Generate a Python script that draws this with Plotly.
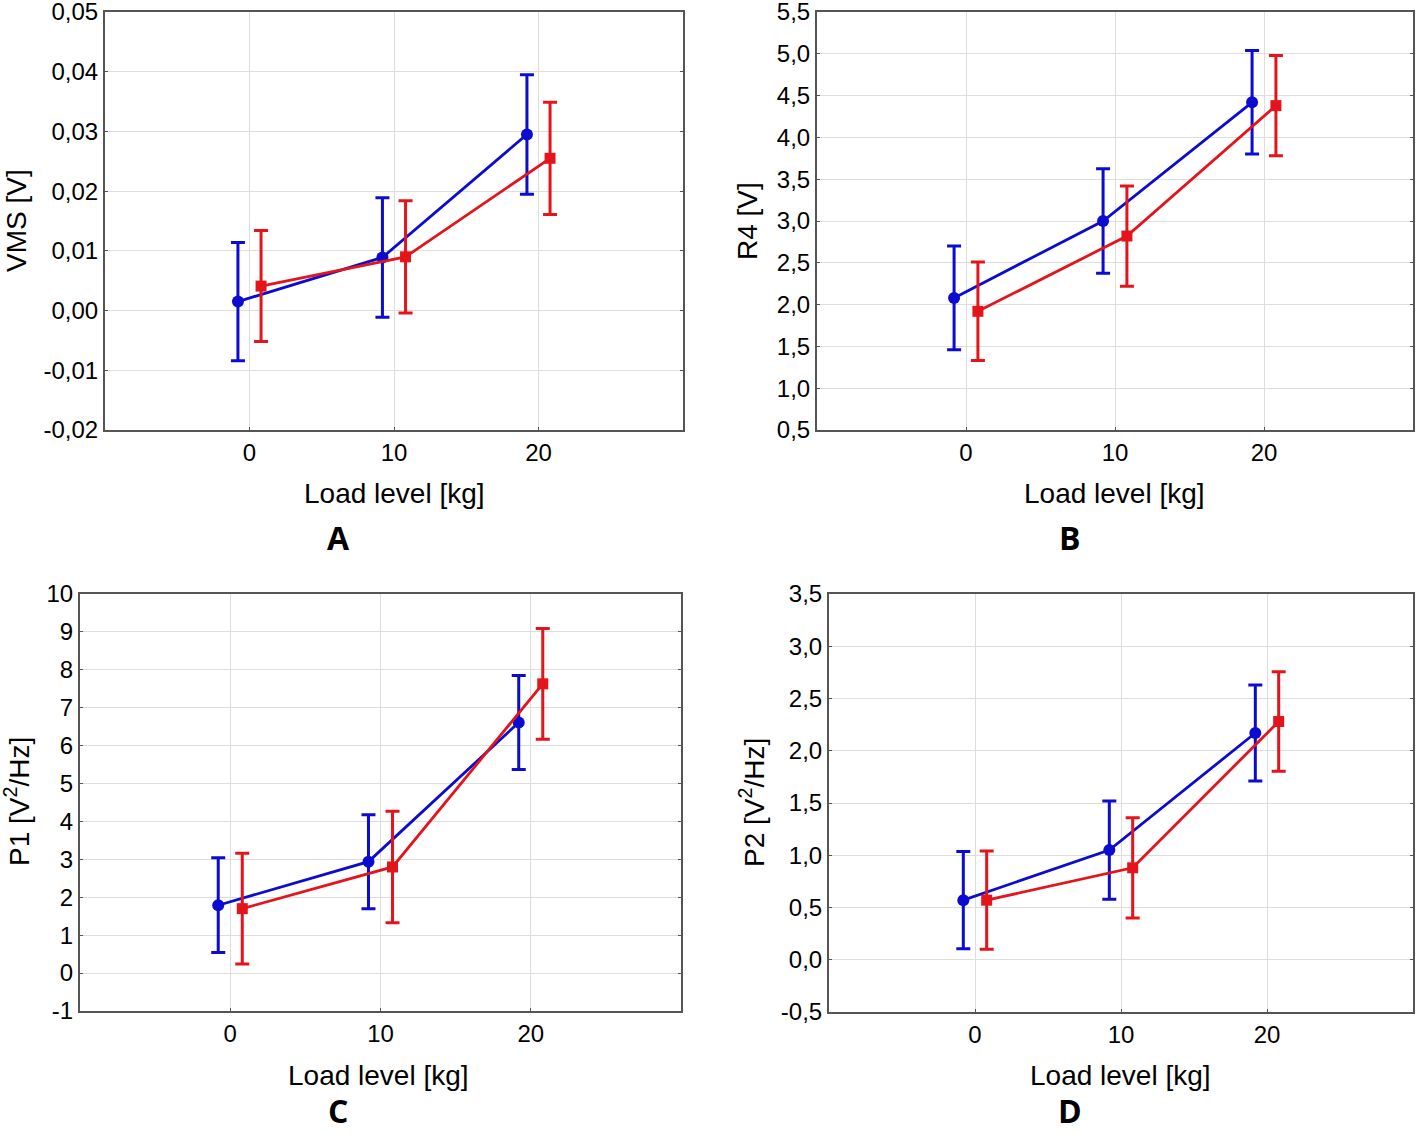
import plotly.graph_objects as go

# ---------------- data ----------------
load_levels = [0, 10, 20]
x_tick_labels = ["0", "10", "20"]

vms_blue = [0.0015, 0.0089, 0.0295]
vms_blue_err = [0.0099, 0.0100, 0.0100]
vms_red = [0.0041, 0.0090, 0.0255]
vms_red_err = [0.0093, 0.0094, 0.0094]

r4_blue = [2.08, 3.00, 4.42]
r4_blue_err = [0.62, 0.625, 0.62]
r4_red = [1.92, 2.82, 4.38]
r4_red_err = [0.59, 0.60, 0.60]

p1_blue = [1.79, 2.94, 6.61]
p1_blue_err = [1.25, 1.24, 1.24]
p1_red = [1.70, 2.80, 7.63]
p1_red_err = [1.46, 1.47, 1.46]

p2_blue = [0.57, 1.05, 2.17]
p2_blue_err = [0.465, 0.47, 0.46]
p2_red = [0.57, 0.88, 2.28]
p2_red_err = [0.47, 0.48, 0.475]

vms_ticks = [-0.02, -0.01, 0.0, 0.01, 0.02, 0.03, 0.04, 0.05]
vms_tick_labels = ["-0,02", "-0,01", "0,00", "0,01", "0,02", "0,03", "0,04", "0,05"]
r4_ticks = [0.5, 1.0, 1.5, 2.0, 2.5, 3.0, 3.5, 4.0, 4.5, 5.0, 5.5]
r4_tick_labels = ["0,5", "1,0", "1,5", "2,0", "2,5", "3,0", "3,5", "4,0", "4,5", "5,0", "5,5"]
p1_ticks = [-1, 0, 1, 2, 3, 4, 5, 6, 7, 8, 9, 10]
p1_tick_labels = ["-1", "0", "1", "2", "3", "4", "5", "6", "7", "8", "9", "10"]
p2_ticks = [-0.5, 0.0, 0.5, 1.0, 1.5, 2.0, 2.5, 3.0, 3.5]
p2_tick_labels = ["-0,5", "0,0", "0,5", "1,0", "1,5", "2,0", "2,5", "3,0", "3,5"]

y_titles = ["VMS [V]", "R4 [V]", "P1 [V<sup>2</sup>/Hz]", "P2 [V<sup>2</sup>/Hz]"]
x_title = "Load level [kg]"
panel_letters = ["A", "B", "C", "D"]

# ---------------- style ----------------
W, H = 1418, 1134
BLUE = "#0c0cd0"
RED = "#e3141b"
OFFSET = 0.8
FONT = "Liberation Sans, Arial, sans-serif"

panels = [
    dict(blue=vms_blue, be=vms_blue_err, red=vms_red, re=vms_red_err,
         ticks=vms_ticks, labels=vms_tick_labels, px=(105, 683), py=(12, 430)),
    dict(blue=r4_blue, be=r4_blue_err, red=r4_red, re=r4_red_err,
         ticks=r4_ticks, labels=r4_tick_labels, px=(817, 1413), py=(12, 430)),
    dict(blue=p1_blue, be=p1_blue_err, red=p1_red, re=p1_red_err,
         ticks=p1_ticks, labels=p1_tick_labels, px=(80, 681), py=(594, 1011)),
    dict(blue=p2_blue, be=p2_blue_err, red=p2_red, re=p2_red_err,
         ticks=p2_ticks, labels=p2_tick_labels, px=(829, 1413), py=(594, 1012)),
]

fig = go.Figure()
layout = dict(
    width=W, height=H, autosize=False,
    margin=dict(l=0, r=0, t=0, b=0, pad=0),
    paper_bgcolor="white", plot_bgcolor="white",
    showlegend=False,
    font=dict(family=FONT, color="black"),
)
annotations = []

for i, p in enumerate(panels):
    n = "" if i == 0 else str(i + 1)
    xa, ya = "x" + n, "y" + n
    xb = [v - OFFSET for v in load_levels]
    xr = [v + OFFSET for v in load_levels]
    fig.add_trace(go.Scatter(
        x=xb, y=p["blue"], xaxis=xa, yaxis=ya, mode="lines+markers",
        line=dict(color=BLUE, width=2.8),
        marker=dict(symbol="circle", size=12, color=BLUE),
        error_y=dict(type="data", array=p["be"], color=BLUE, thickness=3, width=7),
    ))
    fig.add_trace(go.Scatter(
        x=xr, y=p["red"], xaxis=xa, yaxis=ya, mode="lines+markers",
        line=dict(color=RED, width=2.8),
        marker=dict(symbol="square", size=11, color=RED),
        error_y=dict(type="data", array=p["re"], color=RED, thickness=3, width=7),
    ))
    x0, x1 = p["px"]
    y0, y1 = p["py"]
    layout["xaxis" + n] = dict(
        domain=[x0 / W, x1 / W], anchor=ya, range=[-10, 30],
        tickvals=load_levels, ticktext=x_tick_labels,
        showgrid=True, gridcolor="#dddddd", gridwidth=1.3,
        showline=True, linecolor="#555555", linewidth=2, mirror=True,
        ticks="inside", ticklen=3, tickcolor="#555555",
        tickfont=dict(size=24, family=FONT, color="black"),
        ticklabelstandoff=0, zeroline=False, fixedrange=True, automargin=False,
    )
    layout["yaxis" + n] = dict(
        domain=[1 - y1 / H, 1 - y0 / H], anchor=xa,
        range=[p["ticks"][0], p["ticks"][-1]],
        tickvals=p["ticks"], ticktext=p["labels"],
        showgrid=True, gridcolor="#dddddd", gridwidth=1.3,
        showline=True, linecolor="#555555", linewidth=2, mirror="ticks",
        ticks="inside", ticklen=3, tickcolor="#555555",
        tickfont=dict(size=24, family=FONT, color="black"),
        ticklabelstandoff=0, ticklabeloverflow="allow",
        zeroline=False, fixedrange=True, automargin=False,
    )

# axis titles and panel letters (paper coordinates)
ytitle_pos = [(17, 221), (748, 221), (17, 802), (752, 802)]
xtitle_pos = [(394, 493), (1114, 493), (379, 1075), (1120, 1075)]
letter_pos = [(338, 514), (1070, 514), (338, 1134), (1070, 1134)]
for i in range(4):
    ax_, ay_ = ytitle_pos[i]
    annotations.append(dict(
        text=y_titles[i], x=ax_ / W, y=1 - ay_ / H, xref="paper", yref="paper",
        xanchor="center", yanchor="middle", textangle=-90, showarrow=False,
        font=dict(size=28, family=FONT, color="black")))
    bx, by = xtitle_pos[i]
    annotations.append(dict(
        text=x_title, x=bx / W, y=1 - by / H, xref="paper", yref="paper",
        xanchor="center", yanchor="middle", showarrow=False,
        font=dict(size=28, family=FONT, color="black")))
    cx, cy = letter_pos[i]
    annotations.append(dict(
        text="<b>" + panel_letters[i] + "</b>", x=cx / W, y=1 - cy / H,
        xref="paper", yref="paper", xanchor="center",
        yanchor="top" if i < 2 else "bottom",
        showarrow=False, font=dict(size=32, family="Open Sans, sans-serif", color="black")))

layout["annotations"] = annotations
fig.update_layout(**layout)
fig.write_html(
    "out.html",
    config={"displayModeBar": False},
    post_script="document.body.style.margin='0px';document.body.style.overflow='hidden';",
)
